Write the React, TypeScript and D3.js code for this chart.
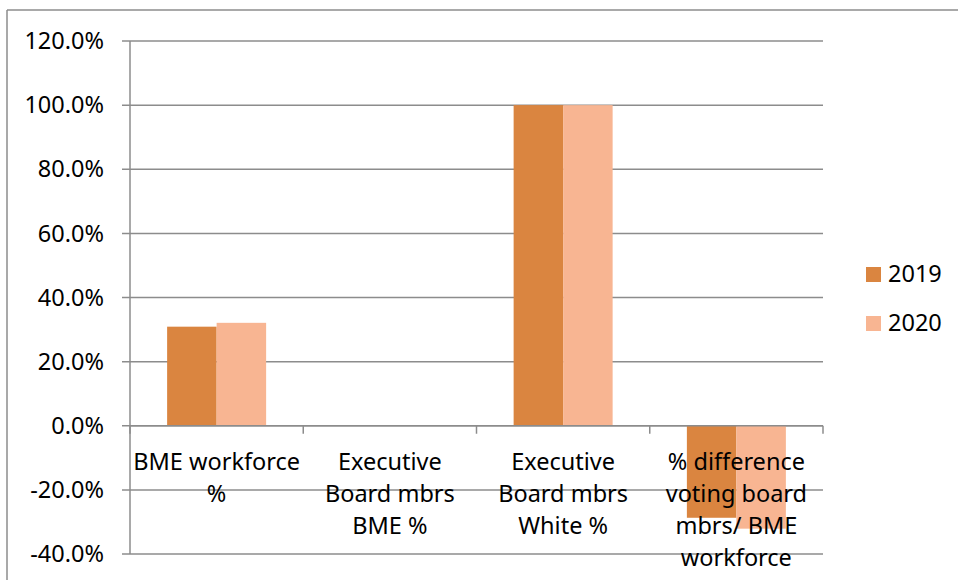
import React from "react";
import * as d3 from "d3";

const categories: string[][] = [
  ["BME workforce", "%"],
  ["Executive", "Board mbrs", "BME %"],
  ["Executive", "Board mbrs", "White %"],
  ["% difference", "voting board", "mbrs/ BME", "workforce"],
];
const seriesNames = ["2019", "2020"];
const values2019 = [0.309, 0, 1.0, -0.287];
const values2020 = [0.321, 0, 1.0, -0.321];
const yTicks = [-0.4, -0.2, 0, 0.2, 0.4, 0.6, 0.8, 1.0, 1.2];
const colors = ["#DA8540", "#F8B592"];

const W = 958;
const H = 580;
const FONT = "'Noto Sans', 'Open Sans', sans-serif";
const FS = 23.5;

export default function App() {
  const left = 130;
  const right = 823;
  const top = 41;
  const bottom = 554;
  const y = d3.scaleLinear().domain([-0.4, 1.2]).range([bottom, top]);
  const catKeys = categories.map((c) => c.join(" "));
  const x = d3.scaleBand<string>().domain(catKeys).range([left, right]).padding(0);
  const groupW = 99;
  const inner = d3.scaleBand<string>().domain(seriesNames).range([0, groupW]).padding(0);
  const data = [values2019, values2020];
  const fmt = (t: number) => d3.format(".1%")(t).replace("\u2212", "-");
  const y0 = y(0);

  return (
    <svg
      width={W}
      height={H}
      style={{ position: "absolute", left: 0, top: 0, background: "#fff" }}
      fontFamily={FONT}
    >
      <rect x={0} y={0} width={W} height={H} fill="#fff" />
      {/* outer border */}
      <line x1={7} y1={10} x2={W} y2={10} stroke="#8c8c8c" strokeWidth={1.5} />
      <line x1={7} y1={10} x2={7} y2={H} stroke="#8c8c8c" strokeWidth={1.5} />

      {/* gridlines and y ticks */}
      {yTicks.map((t) => (
        <g key={t}>
          <line x1={left - 8} x2={right} y1={y(t)} y2={y(t)} stroke="#8c8c8c" strokeWidth={1.5} />
          <text x={104} y={y(t)} dy="0.35em" textAnchor="end" fontSize={FS} fill="#000">
            {fmt(t)}
          </text>
        </g>
      ))}
      {/* y axis */}
      <line x1={left} x2={left} y1={top} y2={bottom} stroke="#8c8c8c" strokeWidth={1.5} />

      {/* bars */}
      {catKeys.map((k, i) => {
        const gx = (x(k) as number) + x.bandwidth() / 2 - groupW / 2;
        return seriesNames.map((s, j) => {
          const v = data[j][i];
          if (v === 0) return null;
          const yy = y(v);
          return (
            <rect
              key={k + s}
              x={gx + (inner(s) as number)}
              y={Math.min(yy, y0)}
              width={inner.bandwidth()}
              height={Math.abs(yy - y0)}
              fill={colors[j]}
            />
          );
        });
      })}

      {/* x axis line and ticks */}
      <line x1={left} x2={right} y1={y0} y2={y0} stroke="#8c8c8c" strokeWidth={1.5} />
      {[...catKeys.map((k) => x(k) as number), right].map((px, i) => (
        <line key={i} x1={px} x2={px} y1={y0} y2={y0 + 8} stroke="#8c8c8c" strokeWidth={1.5} />
      ))}

      {/* category labels */}
      {catKeys.map((k, i) => {
        const cx = (x(k) as number) + x.bandwidth() / 2;
        return (
          <text key={k} x={cx} textAnchor="middle" fontSize={FS} fill="#000">
            {categories[i].map((ln, li) => (
              <tspan key={li} x={cx} y={470 + li * 32}>
                {ln}
              </tspan>
            ))}
          </text>
        );
      })}

      {/* legend */}
      {seriesNames.map((s, j) => (
        <g key={s}>
          <rect x={866} y={267 + j * 49} width={15} height={15} fill={colors[j]} />
          <text x={888} y={282 + j * 49} fontSize={FS} fill="#000">
            {s}
          </text>
        </g>
      ))}
    </svg>
  );
}
